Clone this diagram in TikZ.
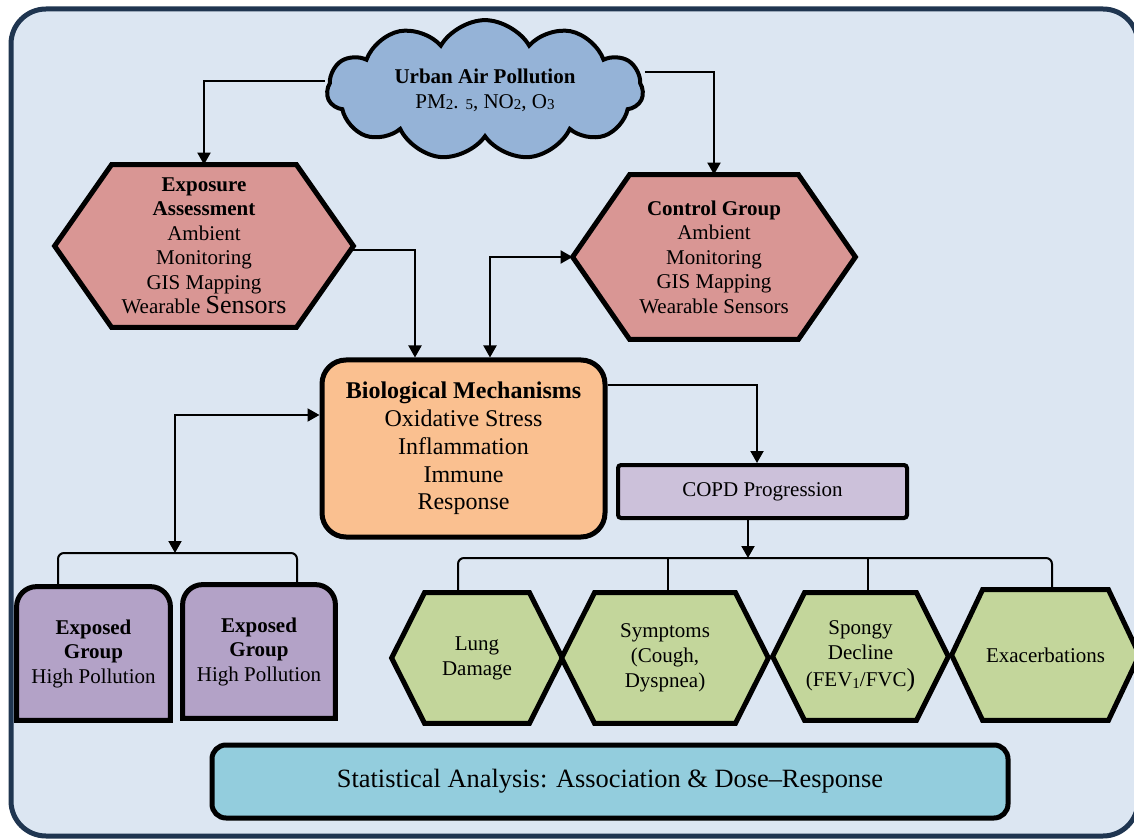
\documentclass[tikz,border=0pt]{standalone}
\usepackage{fontspec}
\setmainfont{Liberation Serif}
\usetikzlibrary{shapes.symbols,arrows.meta,calc}
\pgfdeclarelayer{bg}
\pgfdeclarelayer{mid}
\pgfsetlayers{bg,mid,main}
\definecolor{framefill}{HTML}{DCE6F2}
\definecolor{framec}{HTML}{1F3550}
\definecolor{cloudc}{HTML}{95B3D7}
\definecolor{hexred}{HTML}{D99694}
\definecolor{bioc}{HTML}{FAC090}
\definecolor{copdc}{HTML}{CCC1DA}
\definecolor{expc}{HTML}{B3A2C7}
\definecolor{greenc}{HTML}{C3D69B}
\definecolor{statc}{HTML}{93CDDD}
\newcommand\lowd[1]{\raisebox{-0.15ex}{\fontsize{7.5}{7.5}\selectfont #1}}
\newcommand\hexbg[3]{%
  \begin{pgfonlayer}{mid}
  \filldraw[line width=2.5pt, line join=miter, fill=#3]
    (#1.west) -- ([xshift=#2]#1.north west) -- ([xshift=-#2]#1.north east)
    -- (#1.east) -- ([xshift=-#2]#1.south east) -- ([xshift=#2]#1.south west) -- cycle;
  \end{pgfonlayer}}
\newcommand\tabbg[1]{%
  \begin{pgfonlayer}{mid}
  \filldraw[line width=2.5pt, fill=expc]
    (#1.south west) -- ([yshift=-10pt]#1.north west)
    arc[start angle=180, end angle=90, radius=10pt]
    -- ([xshift=-10pt]#1.north east)
    arc[start angle=90, end angle=0, radius=10pt]
    -- (#1.south east) -- cycle;
  \end{pgfonlayer}}
\begin{document}
\begin{tikzpicture}[x=0.5pt,y=-0.5pt,
  conn/.style={line width=1pt, -{Triangle[length=6pt,width=6.5pt]}},
  conntwo/.style={line width=1pt, {Triangle[length=6pt,width=6.5pt]}-{Triangle[length=6pt,width=6.5pt]}},
  bus/.style={line width=1pt, rounded corners=3pt},
  holder/.style={inner sep=0pt, align=center},
  txt/.style={font=\fontsize{10.5}{12.25}\selectfont},
]
\useasboundingbox (0,0) rectangle (1134,839);
\begin{pgfonlayer}{bg}
\draw[line width=2.5pt, draw=framec, fill=framefill, rounded corners=17.5pt] (11,9) rectangle (1138,836);
\end{pgfonlayer}

% cloud
\node[cloud, cloud puffs=11, cloud puff arc=120, aspect=2.5, draw, line width=2pt,
  fill=cloudc, minimum width=158pt, minimum height=62pt, inner sep=0pt, align=center,
  font=\fontsize{10.5}{12.5}\selectfont] (cloud) at (485,90)
  {\textbf{Urban Air Pollution}\\PM\lowd{2}. \lowd{5}, NO\lowd{2}, O\lowd{3}};

% hexagons
\node[holder, txt, minimum width=149pt, minimum height=81pt] (exp) at (204,246)
  {\textbf{Exposure}\\\textbf{Assessment}\\Ambient\\Monitoring\\GIS Mapping\\Wearable {\fontsize{13}{12.25}\selectfont Sensors}};
\hexbg{exp}{28.5pt}{hexred}
\node[holder, txt, minimum width=141pt, minimum height=82pt] (ctrl) at (714,257)
  {\textbf{Control Group}\\Ambient\\Monitoring\\GIS Mapping\\Wearable Sensors};
\hexbg{ctrl}{28.5pt}{hexred}

% biological mechanisms
\node[draw, line width=2.5pt, fill=bioc, rounded corners=12pt, minimum width=141.5pt,
  minimum height=88.5pt, align=center, font=\fontsize{12}{13.9}\selectfont] (bio) at (463.5,448.5)
  {\textbf{Biological Mechanisms}\\Oxidative Stress\\Inflammation\\Immune\\Response};

% COPD
\node[draw, line width=2pt, fill=copdc, rounded corners=1.5pt, minimum width=144.5pt,
  minimum height=26.5pt, font=\fontsize{10.5}{12}\selectfont] (copd) at (762.5,491.5) {COPD Progression};

% exposed groups
\node[holder, txt, minimum width=76.5pt, minimum height=66.5pt] (eg1) at (93.5,653.5)
  {\textbf{Exposed}\\\textbf{Group}\\High Pollution};
\tabbg{eg1}
\node[holder, txt, minimum width=76pt, minimum height=66.5pt] (eg2) at (259,651.5)
  {\textbf{Exposed}\\\textbf{Group}\\High Pollution};
\tabbg{eg2}

% green hexagons
\node[holder, font=\fontsize{10.5}{12.5}\selectfont, minimum width=85pt, minimum height=65pt] (lung) at (477,658)
  {Lung\\Damage};
\hexbg{lung}{16.5pt}{greenc}
\node[holder, font=\fontsize{10.5}{12.5}\selectfont, minimum width=103pt, minimum height=65pt] (symp) at (665,658)
  {Symptoms\\(Cough,\\Dyspnea)};
\hexbg{symp}{16.5pt}{greenc}
\node[holder, font=\fontsize{10.5}{12.5}\selectfont, minimum width=87.5pt, minimum height=63.5pt] (spongy) at (860.5,656.5)
  {Spongy\\Decline\\[1pt](FEV\lowd{1}/FVC{\fontsize{13}{12.5}\selectfont)}};
\hexbg{spongy}{16pt}{greenc}
\node[holder, font=\fontsize{10.5}{12.5}\selectfont, minimum width=93.5pt, minimum height=65pt] (exac) at (1045.5,655)
  {Exacerbations};
\hexbg{exac}{15.5pt}{greenc}

% statistical analysis
\node[draw, line width=2.5pt, fill=statc, rounded corners=7pt, minimum width=398pt,
  minimum height=36.5pt, font=\fontsize{13.2}{15}\selectfont] (stat) at (610,781.5)
  {Statistical Analysis: Association \& Dose--Response};

% connectors
\coordinate (rbus) at (748,558);
\coordinate (lbus) at (175,553);
\draw[conn] ([yshift=4.5pt]cloud.west) -| (exp.north);
\draw[conn] ([yshift=9pt]cloud.east) -| (ctrl.north);
\draw[conn] ([yshift=-2pt]exp.east) -| ([xshift=-24.25pt]bio.north);
\draw[conntwo] ([xshift=13.25pt]bio.north) |- (ctrl.west);
\draw[conn] ([yshift=31.75pt]bio.east) -| ([xshift=-2.75pt]copd.north);
\draw[conn] ([xshift=-7.25pt]copd.south) -- (rbus);
\draw[bus] ([xshift=-9.5pt]lung.north) |- (rbus) -| ([xshift=3.25pt]exac.north);
\draw[line width=1pt] ([xshift=1.5pt]symp.north) -- ([xshift=1.5pt]symp.north |- rbus);
\draw[line width=1pt] ([xshift=3.75pt]spongy.north) -- ([xshift=3.75pt]spongy.north |- rbus);
\draw[conntwo] ([yshift=16.75pt]bio.west) -| (lbus);
\draw[bus] ([xshift=-17.75pt]eg1.north) |- (lbus) -| ([xshift=19pt]eg2.north);
\end{tikzpicture}
\end{document}
